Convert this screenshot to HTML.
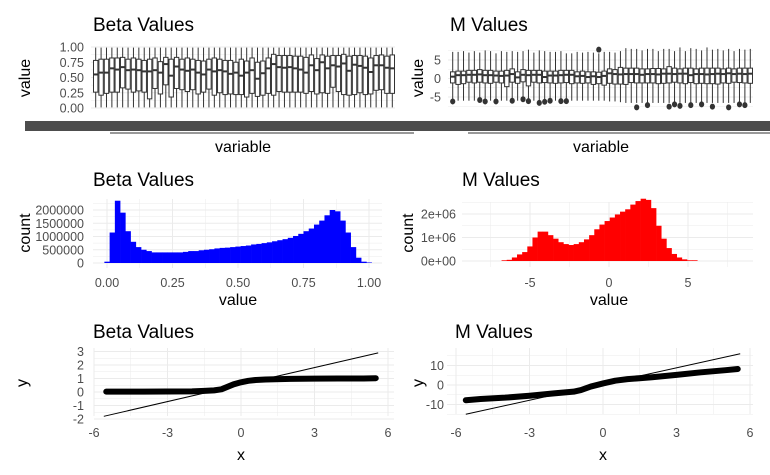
<!DOCTYPE html>
<html><head><meta charset="utf-8"><style>
body{margin:0;background:#fff;}
svg{display:block;font-family:"Liberation Sans",sans-serif;}
.t{font-size:19px;fill:#000;}
.ax{font-size:16px;fill:#000;}
.tk{font-size:12.5px;fill:#4d4d4d;}
</style></head><body>
<svg id="c" width="770" height="475" viewBox="0 0 770 475"></svg>
<script>
// ---- data ----
const betaMed=[0.55,0.58,0.58,0.65,0.63,0.67,0.62,0.63,0.62,0.60,0.60,0.62,0.58,0.72,0.53,0.68,0.63,0.61,0.63,0.58,0.55,0.63,0.60,0.62,0.60,0.56,0.58,0.53,0.58,0.62,0.48,0.57,0.65,0.72,0.67,0.66,0.67,0.65,0.63,0.58,0.70,0.62,0.75,0.65,0.70,0.68,0.73,0.61,0.71,0.69,0.66,0.59,0.70,0.70,0.66,0.65];
const betaQ1=[0.26,0.21,0.24,0.26,0.26,0.33,0.31,0.26,0.28,0.26,0.15,0.32,0.23,0.38,0.18,0.32,0.30,0.27,0.30,0.23,0.26,0.31,0.21,0.25,0.22,0.23,0.22,0.22,0.18,0.24,0.19,0.21,0.24,0.21,0.27,0.26,0.26,0.26,0.26,0.24,0.27,0.23,0.25,0.24,0.34,0.27,0.22,0.21,0.22,0.25,0.22,0.23,0.29,0.30,0.24,0.24];
const betaQ3=[0.78,0.80,0.80,0.82,0.82,0.83,0.80,0.82,0.80,0.78,0.80,0.82,0.76,0.83,0.80,0.83,0.80,0.82,0.80,0.78,0.77,0.80,0.82,0.80,0.78,0.78,0.75,0.80,0.77,0.82,0.75,0.77,0.82,0.88,0.86,0.86,0.86,0.85,0.85,0.83,0.87,0.81,0.87,0.85,0.86,0.86,0.88,0.85,0.86,0.86,0.85,0.82,0.86,0.87,0.85,0.87];
const mMed=[0.5,0.9,0.9,1.0,1.0,1.1,0.9,0.9,0.8,0.7,0.8,1.2,0.3,1.0,0.9,1.0,1.0,0.4,0.8,0.8,0.9,1.0,1.0,0.6,0.7,0.4,0.6,0.4,0.7,1.4,1.2,1.1,1.2,1.2,1.2,1.0,1.2,1.2,1.1,1.3,1.3,1.2,1.3,1.3,0.9,1.2,1.2,1.1,1.2,1.3,1.2,1.4,1.2,1.3,1.2,1.3];
const mQ1=[-1.2,-1.6,-1.4,-1.0,-1.2,-1.0,-1.2,-1.3,-1.0,-1.2,-2.2,-1.0,-1.3,-0.9,-2.0,-1.0,-1.2,-1.1,-1.2,-1.3,-1.2,-1.1,-1.4,-1.2,-1.3,-1.2,-1.6,-1.4,-1.8,-1.3,-1.5,-1.5,-1.6,-1.1,-1.2,-1.2,-1.2,-1.2,-1.4,-1.3,-1.2,-1.0,-1.2,-1.4,-1.1,-1.4,-1.3,-1.4,-1.4,-1.5,-1.2,-1.3,-1.0,-1.1,-1.2,-1.3];
const mQ3=[1.8,2.0,2.0,2.2,2.2,2.4,2.2,2.2,2.0,2.0,2.2,2.6,1.8,2.4,2.2,2.2,2.2,2.0,2.0,2.0,2.2,2.2,2.2,1.8,2.0,1.8,1.8,1.7,2.0,2.6,2.4,3.0,2.8,2.8,2.8,2.6,2.6,2.7,2.7,2.6,3.2,2.8,2.6,2.8,2.8,2.6,2.8,2.8,2.8,2.8,2.6,2.8,2.6,2.8,2.8,2.8];
const mHi=[7.2,7.2,7.4,7.0,7.4,7.0,7.6,7.4,6.8,7.4,7.2,7.4,7.2,7.4,7.8,7.0,7.6,7.4,7.2,7.2,7.4,6.8,6.8,7.2,7.0,7.2,7.0,6.8,7.2,7.2,7.0,7.4,8.2,8.0,8.0,7.6,8.0,8.0,7.4,8.0,8.0,7.4,8.4,7.4,8.2,8.0,7.6,8.4,7.8,8.0,7.6,8.0,7.4,8.0,7.8,8.0];
const mLo=[-6.0,-6.0,-6.0,-6.0,-6.0,-6.0,-6.0,-6.0,-6.0,-6.0,-6.0,-6.0,-6.0,-6.0,-6.0,-6.0,-6.0,-6.0,-6.0,-6.0,-6.0,-6.0,-6.0,-6.0,-6.0,-6.0,-6.0,-6.0,-6.0,-6.2,-6.2,-6.4,-6.6,-6.6,-6.6,-6.6,-6.6,-6.6,-6.6,-6.6,-6.6,-6.6,-6.6,-6.6,-6.6,-6.6,-6.6,-6.6,-6.6,-6.6,-6.6,-6.6,-6.6,-6.6,-6.6,-6.6];
const mOutIdx=[0,5,6,8,11,13,14,16,17,18,20,21,27,34,36,40,41,42,44,46,48,51,53,54];
const mOutVal=[-6.2,-5.8,-6.2,-6.2,-6.0,-5.6,-6.1,-6.6,-6.3,-6.0,-6.1,-6.1,7.8,-7.8,-7.2,-7.6,-7.0,-7.4,-7.2,-7.0,-7.6,-7.8,-7.0,-7.2];
const hbCenters=[0,0.02,0.04,0.06,0.08,0.10,0.12,0.14,0.16,0.18,0.20,0.22,0.24,0.26,0.28,0.30,0.32,0.34,0.36,0.38,0.40,0.42,0.44,0.46,0.48,0.50,0.52,0.54,0.56,0.58,0.60,0.62,0.64,0.66,0.68,0.70,0.72,0.74,0.76,0.78,0.80,0.82,0.84,0.86,0.88,0.90,0.92,0.94,0.96,0.98,1.00];
const hbCounts=[50000,1150000,2350000,1900000,1200000,800000,600000,500000,450000,400000,400000,400000,400000,400000,400000,420000,450000,450000,480000,500000,520000,550000,570000,580000,600000,620000,640000,660000,700000,720000,750000,780000,820000,860000,900000,950000,1020000,1100000,1200000,1300000,1450000,1600000,1800000,2000000,1950000,1600000,1150000,600000,200000,50000,20000];
const hmStart=-6.8, hmWidth=0.326;
const hmCounts=[30000,50000,150000,280000,380000,620000,1000000,1250000,1250000,1100000,950000,800000,720000,680000,720000,800000,920000,1100000,1350000,1550000,1700000,1850000,1980000,2100000,2200000,2400000,2550000,2650000,2600000,2250000,1500000,950000,550000,300000,150000,70000,30000,30000];
const qbX=[-5.5,-5,-4,-3,-2,-1.5,-1.1,-0.8,-0.5,-0.3,0,0.3,0.6,1,2,3,4,5,5.5];
const qbY=[0.03,0.03,0.03,0.04,0.05,0.08,0.12,0.2,0.42,0.57,0.72,0.83,0.89,0.93,0.97,0.99,1.0,1.0,1.02];
const qbLine=[[-5.6,-1.8],[5.6,2.9]];
const qmX=[-5.6,-5,-4,-3,-2,-1.2,-0.9,-0.5,0,0.5,1,2,3,4,5,5.5];
const qmY=[-7.8,-7.2,-6.5,-5.5,-4.3,-3.4,-2.6,-0.8,0.8,2.2,3.0,4.0,5.2,6.5,7.6,8.2];
const qmLine=[[-5.6,-15],[5.6,16]];

const NS="http://www.w3.org/2000/svg", svg=document.getElementById('c');
function mk(tag,at,parent){const e=document.createElementNS(NS,tag);for(const k in at)e.setAttribute(k,at[k]);(parent||svg).appendChild(e);return e;}
function txt(s,x,y,cls,anchor,rot){const e=mk('text',{x:x,y:y,class:cls,'text-anchor':anchor||'start'});if(rot)e.setAttribute('transform',`rotate(-90 ${x} ${y})`);e.textContent=s;return e;}
function hg(y,x0,x1,w){return mk('line',{x1:x0,x2:x1,y1:y,y2:y,stroke:'#ebebeb','stroke-width':w});}
function vg(x,y0,y1,w){return mk('line',{x1:x,x2:x,y1:y0,y2:y1,stroke:'#ebebeb','stroke-width':w});}

// ===== Panel 1: beta boxplot =====
(function(){
const X0=93,X1=395,n=betaMed.length,step=(X1-X0)/n;
const sy=v=>108-v*61, sx=i=>X0+step*(i+0.5);
[0,0.25,0.5,0.75,1].forEach(v=>{const l=hg(sy(v),X0-2,X1,1);
 const t=txt(v.toFixed(2),84,sy(v)+4.5,'tk','end');});
[0.125,0.375,0.625,0.875].forEach(v=>hg(sy(v),X0-2,X1,0.5));
for(let i=0;i<n;i++){
 const x=sx(i),g=mk('g',{});
 
 
 mk('line',{x1:x,x2:x,y1:sy(0.99),y2:sy(0.01),stroke:'#333','stroke-width':1},g);
 mk('rect',{x:x-2.2,y:sy(betaQ3[i]),width:4.4,height:sy(betaQ1[i])-sy(betaQ3[i]),fill:'#fff',stroke:'#333','stroke-width':1},g);
 mk('line',{x1:x-2.2,x2:x+2.2,y1:sy(betaMed[i]),y2:sy(betaMed[i]),stroke:'#333','stroke-width':2},g);
}
const b=mk('rect',{x:25,y:121,width:395,height:10,fill:'#4d4d4d'});
mk('line',{x1:110,x2:413,y1:133,y2:133,stroke:'#333','stroke-width':1});
let t=txt('Beta Values',93,31,'t');
t=txt('value',30,78,'ax','middle',true);
t=txt('variable',243,152,'ax','middle');
})();

// ===== Panel 2: M boxplot =====
(function(){
const X0=450,X1=753,n=mMed.length,step=(X1-X0)/n;
const sy=v=>78.5-v*3.7, sx=i=>X0+step*(i+0.5);
[-5,0,5].forEach(v=>{const l=hg(sy(v),X0-2,X1,1);
 const t=txt(String(v),441,sy(v)+4.5,'tk','end');});
[-7.5,-2.5,2.5,7.5].forEach(v=>hg(sy(v),X0-2,X1,0.5));
for(let i=0;i<n;i++){
 const x=sx(i),g=mk('g',{});
 
 
 mk('line',{x1:x,x2:x,y1:sy(mHi[i]),y2:sy(mLo[i]),stroke:'#333','stroke-width':1},g);
 mk('rect',{x:x-2.2,y:sy(mQ3[i]),width:4.4,height:sy(mQ1[i])-sy(mQ3[i]),fill:'#fff',stroke:'#333','stroke-width':1},g);
 mk('line',{x1:x-2.2,x2:x+2.2,y1:sy(mMed[i]),y2:sy(mMed[i]),stroke:'#333','stroke-width':2},g);
}
for(let k=0;k<mOutIdx.length;k++){
 const c=mk('ellipse',{cx:sx(mOutIdx[k]),cy:sy(mOutVal[k]),rx:2.6,ry:3,fill:'#333'});
 
 
}
const b=mk('rect',{x:400,y:121,width:370,height:10,fill:'#4d4d4d'});
mk('line',{x1:400,x2:414,y1:133,y2:133,stroke:'#333','stroke-width':1});
mk('line',{x1:468,x2:770,y1:133,y2:133,stroke:'#333','stroke-width':1});
let t=txt('M Values',450,31,'t');
t=txt('value',423,78,'ax','middle',true);
t=txt('variable',601,152,'ax','middle');
})();

// ===== Panel 3: beta histogram =====
(function(){
const sx=v=>107+v*262, sy=v=>263-v*26.5e-6, X0=93,X1=382,Y0=199,Y1=268;
[0.125,0.375,0.625,0.875].forEach(v=>vg(sx(v),Y0,Y1,0.5));
[250000,750000,1250000,1750000,2250000].forEach(v=>hg(sy(v),X0,X1,0.5));
[0,0.25,0.5,0.75,1].forEach(v=>{vg(sx(v),Y0,Y1,1);const t=txt(v.toFixed(2),sx(v),287,'tk','middle');});
[0,500000,1000000,1500000,2000000].forEach(v=>{hg(sy(v),X0,X1,1);const t=txt(String(v),84,sy(v)+4.5,'tk','end');});
const w=0.02;
for(let i=0;i<hbCenters.length;i++){
 const r=mk('rect',{x:sx(hbCenters[i]-w/2),y:sy(hbCounts[i]),width:sx(w)-sx(0)+0.3,height:sy(0)-sy(hbCounts[i]),fill:'#0000ff'});
 
 
}
let t=txt('Beta Values',93,186,'t');
t=txt('count',30,233,'ax','middle',true);
t=txt('value',238,305,'ax','middle');
})();

// ===== Panel 4: M histogram =====
(function(){
const sx=v=>609+v*15.8, sy=v=>261-v*23.5e-6, X0=462,X1=753,Y0=202,Y1=267;
[-7.5,-2.5,2.5,7.5].forEach(v=>vg(sx(v),Y0,Y1,0.5));
[500000,1500000,2500000].forEach(v=>hg(sy(v),X0,X1,0.5));
[-5,0,5].forEach(v=>{vg(sx(v),Y0,Y1,1);const t=txt(String(v),sx(v),287,'tk','middle');});
[[0,'0e+00'],[1e6,'1e+06'],[2e6,'2e+06']].forEach(p=>{hg(sy(p[0]),X0,X1,1);const t=txt(p[1],456,sy(p[0])+4.5,'tk','end');});
for(let i=0;i<hmCounts.length;i++){
 const a=hmStart+i*hmWidth;
 const r=mk('rect',{x:sx(a),y:sy(hmCounts[i]),width:hmWidth*15.8+0.3,height:sy(0)-sy(hmCounts[i]),fill:'#ff0000'});
 
 
}
let t=txt('M Values',462,186,'t');
t=txt('count',413,233,'ax','middle',true);
t=txt('value',609,305,'ax','middle');
})();

// ===== QQ plots =====
function qq(o){
 const sx=v=>o.x0+v*24.5, sy=v=>o.y0-v*o.ky;
 o.minorY.forEach(v=>hg(sy(v),o.X0,o.X1,0.5));
 [-4.5,-1.5,1.5,4.5].forEach(v=>vg(sx(v),o.Y0,o.Y1,0.5));
 [-6,-3,0,3,6].forEach(v=>{vg(sx(v),o.Y0,o.Y1,1);const t=txt(String(v),sx(v),437,'tk','middle');});
 o.ticksY.forEach(v=>{hg(sy(v),o.X0,o.X1,1);const t=txt(String(v),o.tx,sy(v)+4.5,'tk','end');});
 const pts=o.xs.map((x,i)=>sx(x)+','+sy(o.ys[i])).join(' ');
 const pl=mk('polyline',{points:pts,fill:'none',stroke:'#000','stroke-width':6,'stroke-linejoin':'round','stroke-linecap':'round'});
 
 
 const ln=mk('line',{x1:sx(o.line[0][0]),y1:sy(o.line[0][1]),x2:sx(o.line[1][0]),y2:sy(o.line[1][1]),stroke:'#000','stroke-width':1});
 
 
 let t=txt(o.title,o.tt,338,'t');
 t=txt('y',o.yl,383,'ax','middle',true);
 t=txt('x',sx(0),460,'ax','middle');
}
qq({p:'beta',x0:241,y0:392,ky:13.5,X0:94,X1:394,Y0:348,Y1:416,tx:84,tt:93,yl:27,title:'Beta Values',
 ticksY:[-2,-1,0,1,2,3],minorY:[-1.5,-0.5,0.5,1.5,2.5],xs:qbX,ys:qbY,line:qbLine});
qq({p:'m',x0:603,y0:385,ky:1.95,X0:447,X1:753,Y0:348,Y1:414,tx:444,tt:455,yl:423,title:'M Values',
 ticksY:[-10,0,10],minorY:[-15,-5,5,15],xs:qmX,ys:qmY,line:qmLine});
</script>
</body></html>
